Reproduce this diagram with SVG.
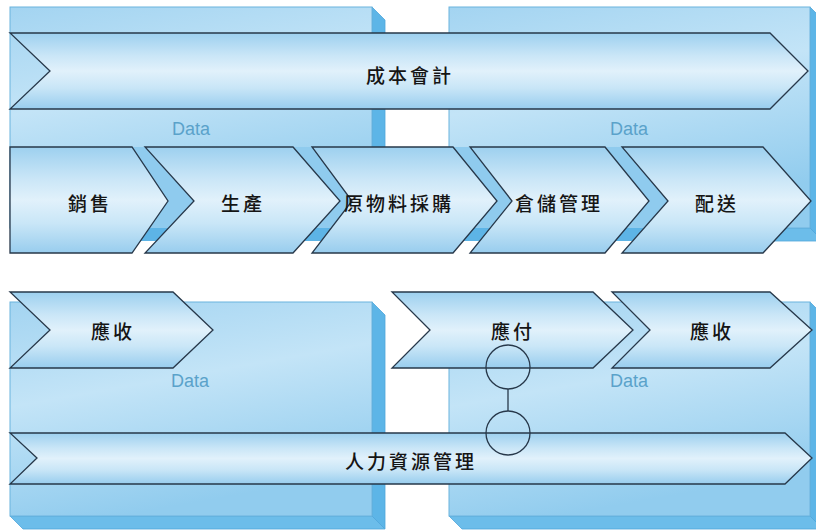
<svg xmlns="http://www.w3.org/2000/svg" width="816" height="531" viewBox="0 0 816 531">
<defs>
<linearGradient id="boxFront" x1="0" y1="0" x2="0.3" y2="1">
<stop offset="0" stop-color="#a3d4f1"/>
<stop offset="0.45" stop-color="#c3e4f7"/>
<stop offset="1" stop-color="#91ccee"/>
</linearGradient>
<linearGradient id="chev" x1="0" y1="0" x2="0" y2="1">
<stop offset="0" stop-color="#9dd0ef"/>
<stop offset="0.3" stop-color="#cae6f7"/>
<stop offset="0.5" stop-color="#e1f1fb"/>
<stop offset="0.72" stop-color="#c9e6f7"/>
<stop offset="1" stop-color="#98cdee"/>
</linearGradient>
<linearGradient id="gap" gradientUnits="userSpaceOnUse" x1="0" y1="147" x2="0" y2="253">
<stop offset="0" stop-color="#8fcbee"/>
<stop offset="0.764" stop-color="#8fcbee"/>
<stop offset="0.764" stop-color="#5db4e6"/>
<stop offset="0.887" stop-color="#5db4e6"/>
<stop offset="0.887" stop-color="#ffffff"/>
<stop offset="1" stop-color="#ffffff"/>
</linearGradient>
<style>
.front{fill:url(#boxFront);stroke:#6ab3de;stroke-width:1}
.side{fill:#5db5e7;stroke:#4fa6da;stroke-width:0.8}
.bottom{fill:#6cbdea;stroke:#4fa6da;stroke-width:0.8}
.chev{fill:url(#chev);stroke:#27384a;stroke-width:1.3;stroke-linejoin:miter}
.gap{fill:url(#gap)}
.lbl{font-family:'Noto Sans CJK TC','Noto Sans CJK SC',sans-serif;font-size:19px;font-weight:500;fill:#151515;text-anchor:middle;dominant-baseline:central;letter-spacing:3px}
.data{font-family:'Liberation Sans',Arial,sans-serif;font-size:18px;fill:#5aa2ca;text-anchor:middle}
.conn{fill:none;stroke:#27384a;stroke-width:1.3}
</style>
</defs>
<rect width="816" height="531" fill="#ffffff"/>

<g id="data-box-top-left">
<polygon class="side" points="372,7 385,20 385,241 372,228"/>
<polygon class="bottom" points="10,228 372,228 385,241 23,241"/>
<rect class="front" x="10" y="7" width="362" height="221"/>
<text class="data" x="191" y="135">Data</text>
</g>
<g id="data-box-top-right">
<polygon class="side" points="810,7 823,20 823,241 810,228"/>
<polygon class="bottom" points="449,228 810,228 823,241 462,241"/>
<rect class="front" x="449" y="7" width="361" height="221"/>
<text class="data" x="629" y="135">Data</text>
</g>
<g id="data-box-bottom-left">
<polygon class="side" points="372,302 385,315 385,529 372,516"/>
<polygon class="bottom" points="10,516 372,516 385,529 23,529"/>
<rect class="front" x="10" y="302" width="362" height="214"/>
<text class="data" x="190" y="387">Data</text>
</g>
<g id="data-box-bottom-right">
<polygon class="side" points="810,302 823,315 823,529 810,516"/>
<polygon class="bottom" points="449,516 810,516 823,529 462,529"/>
<rect class="front" x="449" y="302" width="361" height="214"/>
<text class="data" x="629" y="387">Data</text>
</g>

<g id="gaps">
<polygon class="gap" points="132,147 145,147 194,201 145,253 132,253 168,201"/>
<polygon class="gap" points="293,147 312,147 352,201 312,253 293,253 340,201"/>
<polygon class="gap" points="453,147 470,147 512,201 470,253 453,253 497,201"/>
<polygon class="gap" points="605,147 622,147 668,201 622,253 605,253 649,201"/>
</g>

<g id="node-cost-accounting">
<polygon class="chev" points="10,33 770,33 808,71 770,109 10,109 50,71"/>
<text class="lbl" x="410" y="74">成本會計</text>
</g>
<g id="node-sales">
<polygon class="chev" points="10,147 132,147 168,201 132,253 10,253"/>
<text class="lbl" x="90" y="202">銷售</text>
</g>
<g id="node-production">
<polygon class="chev" points="145,147 293,147 340,201 293,253 145,253 194,201"/>
<text class="lbl" x="243" y="202">生產</text>
</g>
<g id="node-purchasing">
<polygon class="chev" points="312,147 453,147 497,201 453,253 312,253 352,201"/>
<text class="lbl" x="399" y="202">原物料採購</text>
</g>
<g id="node-warehouse">
<polygon class="chev" points="470,147 605,147 649,201 605,253 470,253 512,201"/>
<text class="lbl" x="559" y="202">倉儲管理</text>
</g>
<g id="node-delivery">
<polygon class="chev" points="622,147 763,147 811,201 763,253 622,253 668,201"/>
<text class="lbl" x="717" y="202">配送</text>
</g>
<g id="node-receivable-left">
<polygon class="chev" points="10,292 173,292 213,330 173,368 10,368 50,330"/>
<text class="lbl" x="113" y="330">應收</text>
</g>
<g id="node-payable">
<polygon class="chev" points="392,292 593,292 633,330 593,368 392,368 430,330"/>
<text class="lbl" x="513" y="330">應付</text>
</g>
<g id="node-receivable-right">
<polygon class="chev" points="612,292 770,292 812,330 770,368 612,368 650,330"/>
<text class="lbl" x="712" y="330">應收</text>
</g>
<g id="node-hr">
<polygon class="chev" points="10,433 785,433 812,458 785,484 10,484 37,458"/>
<text class="lbl" x="411" y="460">人力資源管理</text>
</g>

<g id="connectors">
<circle class="conn" cx="508" cy="367" r="22"/>
<circle class="conn" cx="508" cy="433" r="22"/>
<line class="conn" x1="508" y1="389" x2="508" y2="411"/>
</g>
</svg>
